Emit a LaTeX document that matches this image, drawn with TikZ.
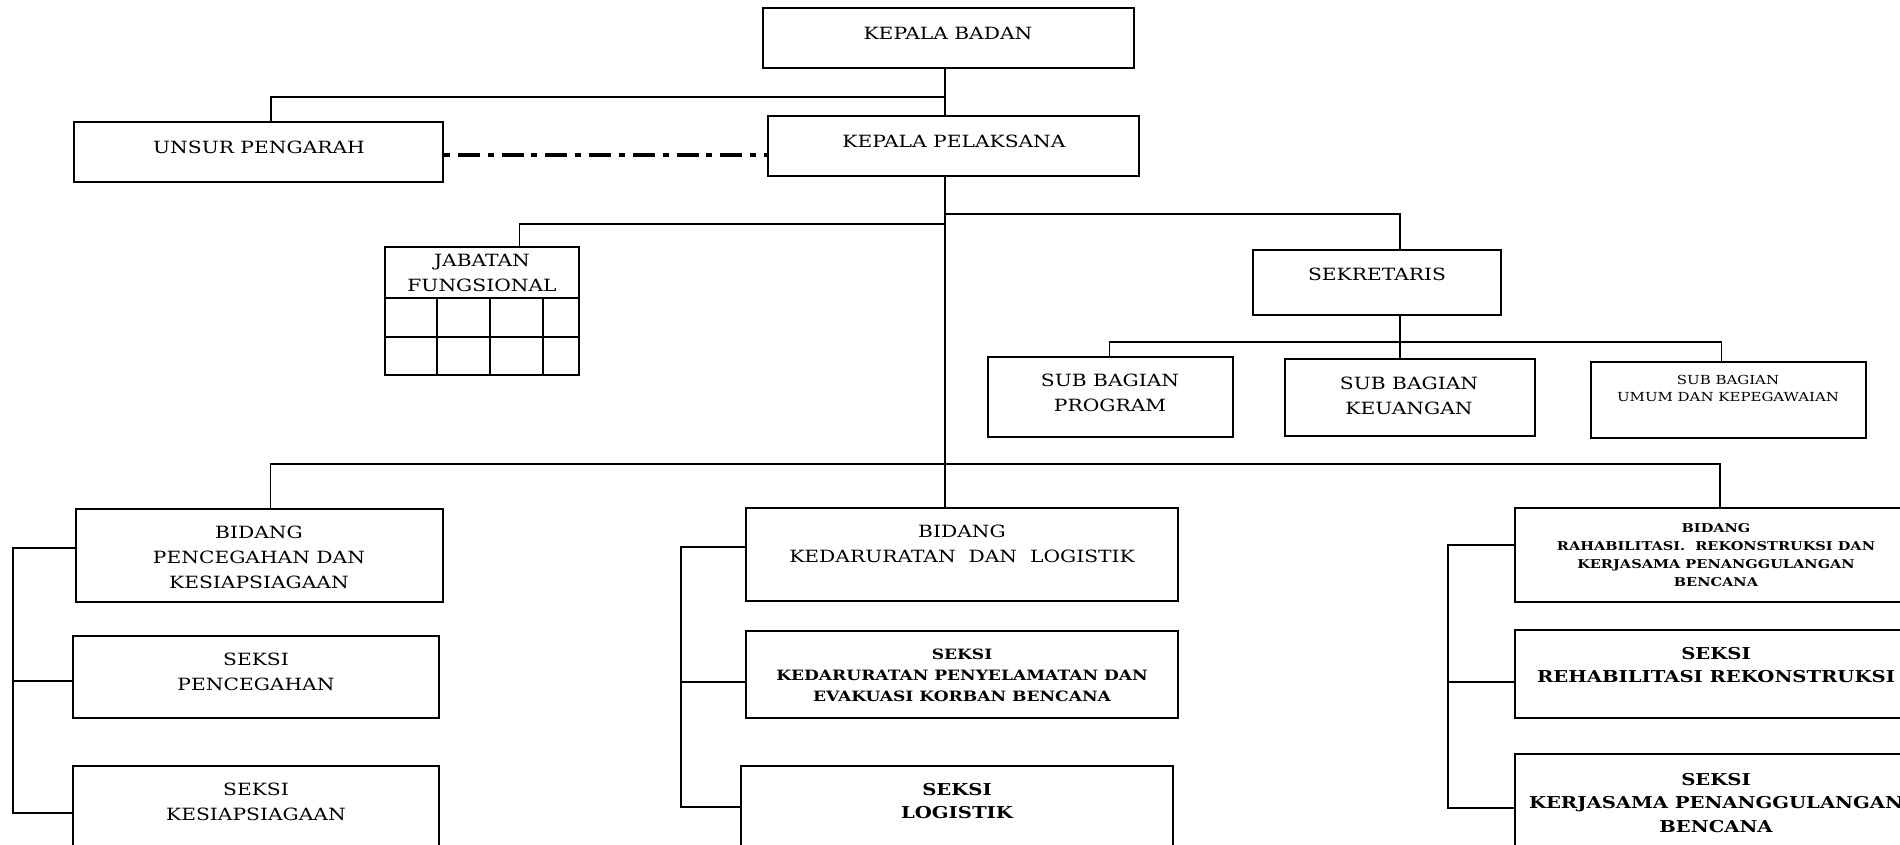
\documentclass[tikz,border=0pt]{standalone}
\usepackage{fontspec}
\setmainfont{DejaVu Serif}[FakeStretch=1.2]
\usetikzlibrary{positioning,fit,calc}

\tikzset{
  box/.style={draw, line width=1.1pt, inner sep=0pt},
  grid/.style={draw, line width=0.6pt, inner sep=0pt},
  link/.style={line width=1pt},
  dashdotline/.style={line width=2.2pt, dash pattern=on 3.4pt off 4.5pt on 12.5pt off 4.5pt},
  lbl/.style={align=center, inner sep=0pt, font=\fontsize{9.6}{14.2}\selectfont},
  lblsmall/.style={align=center, inner sep=0pt, font=\fontsize{7.1}{9.7}\selectfont},
  lblbold/.style={align=center, inner sep=0pt, font=\bfseries\fontsize{8.1}{12}\selectfont},
  lbltiny/.style={align=center, inner sep=0pt, font=\bfseries\fontsize{6.9}{10.2}\selectfont},
  lblbig/.style={align=center, inner sep=0pt, font=\bfseries\fontsize{9.3}{13.5}\selectfont},
}

\begin{document}
\begin{tikzpicture}[x=0.02cm,y=-0.02cm]
\useasboundingbox (0,0) rectangle (1900,845);
\clip (0,0) rectangle (1900,845);

% boxes
\node [box, fit={(763,8) (1134,68)}] (kb) {};
\node [box, fit={(74,122) (443,182)}] (up) {};
\node [box, fit={(768,116) (1139,176)}] (kp) {};
\node [grid, fit={(385,247) (579,375)}] (jf) {};
\node [box, fit={(1253,250) (1501,315)}] (sek) {};
\node [box, fit={(988,357) (1233,437)}] (sp) {};
\node [box, fit={(1285,359) (1535,436)}] (kg) {};
\node [box, fit={(1591,362) (1866,438)}] (su) {};

\node [box, fit={(76,509) (443,602)}] (bp) {};
\node [box, fit={(73,636) (439,718)}] (ps) {};
\node [box, fit={(73,766) (439,870)}] (sk) {};
\node [box, fit={(746,508) (1178,601)}] (bk) {};
\node [box, fit={(746,631) (1178,718)}] (kd) {};
\node [box, fit={(741,766) (1173,870)}] (lg) {};
\node [box, fit={(1515,508) (1917,602)}] (br) {};
\node [box, fit={(1515,630) (1917,718)}] (rr) {};
\node [box, fit={(1515,754) (1917,870)}] (kj) {};

% cells of jabatan fungsional
\draw [line width=0.6pt] (385,298) -- (579,298);
\draw [line width=0.6pt] (385,337) -- (579,337);
\foreach \x in {437,490,543}
  \draw [line width=0.6pt] (\x,298) -- (\x,375);

% junctions
\coordinate (j0) at (945,97);
\coordinate (j1) at (945,224);
\coordinate (j2) at (945,214);
\coordinate (j3) at (945,464);
\coordinate (s0) at (1400,342);

\draw [link] (kb.south -| j0) -- (kp.north -| j0);
\draw [link] (j0) -| ($(up.north west)+(198,0)$);
\draw [dashdotline] ($(up.east)+(0,3)$) -- ($(kp.west |- up.east)+(0,3)$);
\draw [link] (kp.south -| j0) -- (bk.north -| j0);
\draw [link] (j1) -| ($(jf.north west)+(135,0)$);
\draw [link] (j2) -| ($(sek.north)+(23,0)$);
\draw [link] (s0 |- sek.south) -- (s0 |- kg.north);
\draw [link] ($(sp.north)+(-1,0)$) |- (s0) -| ($(su.north)+(-7,0)$);
\draw [link] ($(bp.north)+(11,0)$) |- (j3) -| ($(br.north)+(4,0)$);

% brackets
\coordinate (lb1) at (13,548);
\coordinate (lb2) at (13,681);
\coordinate (lb3) at (13,813);
\coordinate (mb1) at (681,547);
\coordinate (mb2) at (681,682);
\coordinate (mb3) at (681,807);
\coordinate (rb1) at (1448,545);
\coordinate (rb2) at (1448,682);
\coordinate (rb3) at (1448,808);

\draw [link] (lb1 -| bp.west) -- (lb1) -- (lb3) -- (lb3 -| sk.west);
\draw [link] (lb2) -- (lb2 -| ps.west);
\draw [link] (mb1 -| bk.west) -- (mb1) -- (mb3) -- (mb3 -| lg.west);
\draw [link] (mb2) -- (mb2 -| kd.west);
\draw [link] (rb1 -| br.west) -- (rb1) -- (rb3) -- (rb3 -| kj.west);
\draw [link] (rb2) -- (rb2 -| rr.west);

% texts
\node [lbl] (kbt) at (948,33) {KEPALA BADAN};
\node [lbl] (upt) at (259,147) {UNSUR PENGARAH};
\node [lbl] (kpt) at (954,141) {KEPALA PELAKSANA};
\node [lbl] (jft) at (482,273) {JABATAN\\FUNGSIONAL};
\node [lbl] (sekt) at (1377,274) {SEKRETARIS};
\node [lbl] (spt) at (1110,393) {SUB BAGIAN\\PROGRAM};
\node [lbl] (kgt) at (1409,396) {SUB BAGIAN\\KEUANGAN};
\node [lblsmall] (sut) at (1728,388) {SUB BAGIAN\\UMUM DAN KEPEGAWAIAN};
\node [lbl] (bpt) at (259,557) {BIDANG\\PENCEGAHAN DAN\\KESIAPSIAGAAN};
\node [lbl] (pst) at (256,672) {SEKSI\\PENCEGAHAN};
\node [lbl] (skt) at (256,802) {SEKSI\\KESIAPSIAGAAN};
\node [lbl] (bkt) at (962,544) {BIDANG\\KEDARURATAN\ \ DAN\ \ LOGISTIK};
\node [lblbold] (kdt) at (962,675) {SEKSI\\KEDARURATAN PENYELAMATAN DAN\\EVAKUASI KORBAN BENCANA};
\node [lblbig] (lgt) at (957,801) {SEKSI\\LOGISTIK};
\node [lbltiny] (brt) at (1716,555) {BIDANG\\RAHABILITASI.\ \ REKONSTRUKSI DAN\\KERJASAMA PENANGGULANGAN\\BENCANA};
\node [lblbig] (rrt) at (1716,665) {SEKSI\\REHABILITASI REKONSTRUKSI};
\node [lblbig] (kjt) at (1716,803) {SEKSI\\KERJASAMA PENANGGULANGAN\\BENCANA};
\end{tikzpicture}
\end{document}
